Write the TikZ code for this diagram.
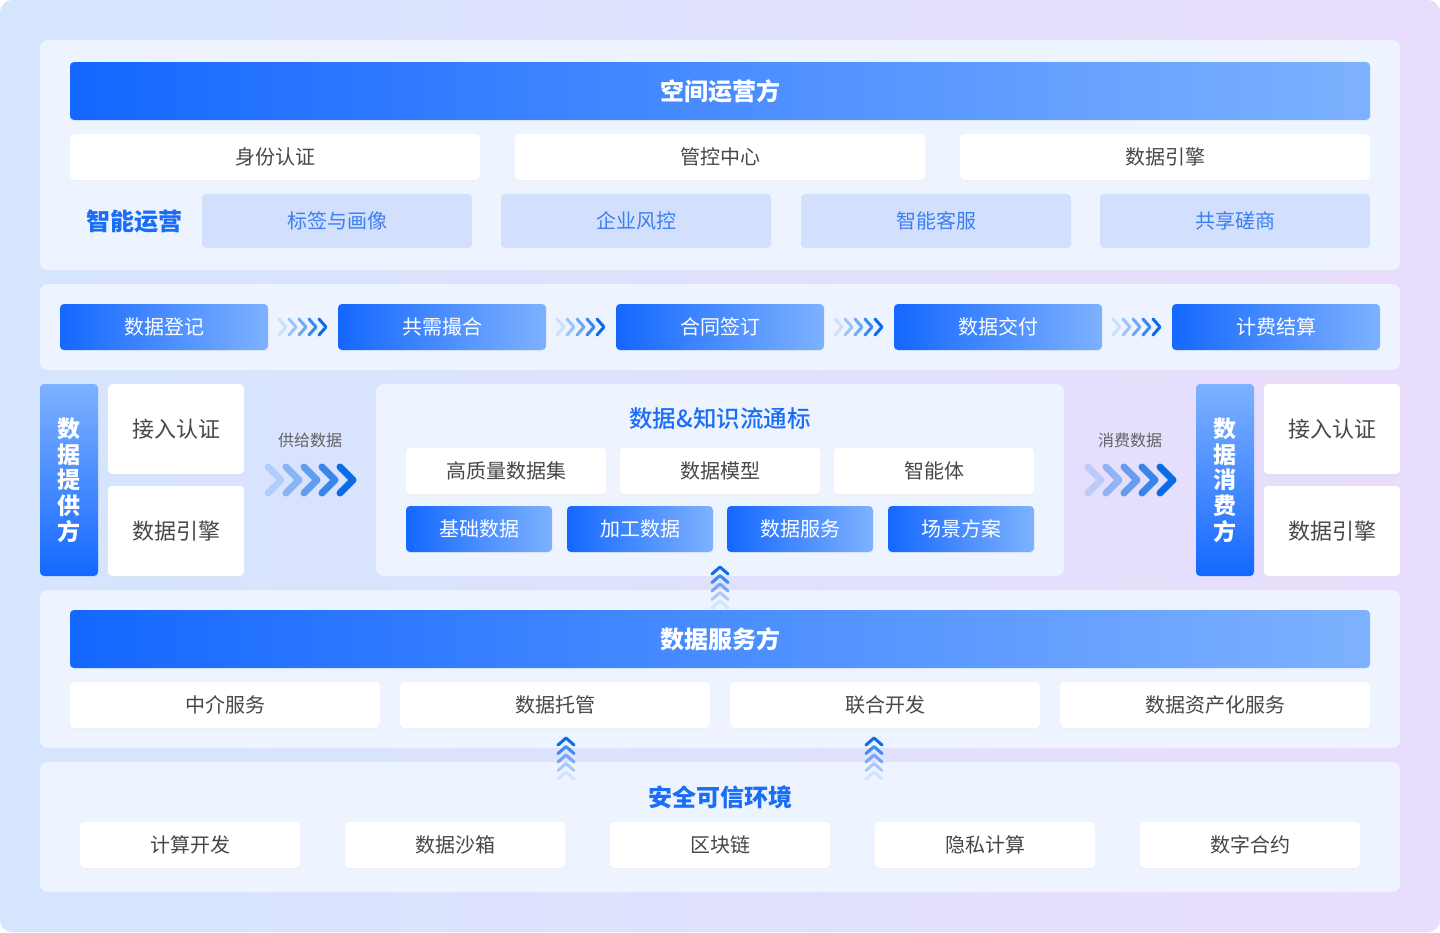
\documentclass[tikz,border=0pt]{standalone}
\usepackage{fontspec}
\setmainfont{Noto Sans CJK SC}
\newfontfamily\medfont{Noto Sans CJK SC Medium}
\usetikzlibrary{positioning,shadows}
\definecolor{bg_left}{HTML}{D5E5FE}
\definecolor{bg_right}{HTML}{E9DDFC}
\definecolor{panel_fill}{HTML}{EEF4FF}
\definecolor{grad_a}{HTML}{1467FF}
\definecolor{grad_b}{HTML}{7EB2FF}
\definecolor{light_fill}{HTML}{D3E0FD}
\definecolor{light_text}{HTML}{3C7FF1}
\definecolor{title_blue}{HTML}{1A6DF5}
\definecolor{gray_text}{HTML}{474747}
\definecolor{chev_blue}{HTML}{0B6CE8}
\tikzset{
    panel/.style = {rectangle, rounded corners=8pt, fill=panel_fill, inner sep=0pt},
    bar_head/.style = {rectangle, rounded corners=4pt, left color=grad_a, right color=grad_b, text=white, font=\bfseries\fontsize{24}{28}\selectfont, minimum width=1300pt, minimum height=58pt},
    bar_side/.style = {rectangle, rounded corners=4pt, top color=grad_b, bottom color=grad_a, text=white, align=center, font=\bfseries\fontsize{23}{25.7}\selectfont, minimum width=58pt, minimum height=192pt},
    box_white/.style = {rectangle, rounded corners=4pt, fill=white, text=gray_text, font=\fontsize{20}{24}\selectfont, minimum height=46pt, minimum width=#1, drop shadow={shadow xshift=0pt, shadow yshift=-1pt, opacity=0.06}},
    box_tall/.style = {box_white=136pt, minimum height=90pt, font=\fontsize{22}{26}\selectfont},
    box_light/.style = {rectangle, rounded corners=4pt, fill=light_fill, text=light_text, font=\fontsize{20}{24}\selectfont, minimum height=54pt, minimum width=270pt},
    box_grad/.style = {rectangle, rounded corners=4pt, left color=grad_a, right color=grad_b, text=white, font=\fontsize{20}{24}\selectfont, minimum height=46pt, minimum width=#1, drop shadow={shadow xshift=0pt, shadow yshift=-1pt, opacity=0.06}},
    title_text/.style = {text=title_blue, font=\bfseries\fontsize{24}{28}\selectfont},
    flow_text/.style = {text=gray_text!85, font=\fontsize{16}{20}\selectfont},
    chev_small/.style = {chev_blue, line width=3pt, line cap=round, line join=round},
    chev_big/.style = {chev_blue, line width=7pt, line cap=round, line join=round}
}
\begin{document}
\begin{tikzpicture}[x=1pt, y=-1pt]
    \useasboundingbox (0,0) rectangle (1440,932);
    \fill[white] (0,0) rectangle (1440,932);
    \shade[left color=bg_left, right color=bg_right, rounded corners=12pt] (0,0) rectangle (1440,932);

    % operator panel
    \node [panel, minimum width=1360pt, minimum height=230pt] (pnl_ops) at (720,155) {};
    \node [bar_head] (hdr_ops) at (720,91) {空间运营方};
    \node [box_white=410pt] (ops_id) at (275,157) {身份认证};
    \node [box_white=410pt] (ops_ctrl) at (720,157) {管控中心};
    \node [box_white=410pt] (ops_engine) at (1165,157) {数据引擎};
    \node [title_text] (ops_smart) at (134,221) {智能运营};
    \node [box_light] (ops_tag) at (337,221) {标签与画像};
    \node [box_light] (ops_risk) at (636,221) {企业风控};
    \node [box_light] (ops_cs) at (936,221) {智能客服};
    \node [box_light] (ops_share) at (1235,221) {共享磋商};

    % process steps
    \node [panel, minimum width=1360pt, minimum height=86pt] (pnl_steps) at (720,327) {};
    \node [box_grad=208pt] (step_reg) at (164,327) {数据登记};
    \node [box_grad=208pt] (step_match) at (442,327) {共需撮合};
    \node [box_grad=208pt] (step_sign) at (720,327) {合同签订};
    \node [box_grad=208pt] (step_deliver) at (998,327) {数据交付};
    \node [box_grad=208pt] (step_bill) at (1276,327) {计费结算};
    \foreach \a/\b in {step_reg/step_match, step_match/step_sign, step_sign/step_deliver, step_deliver/step_bill}{
        \path (\a.east) -- (\b.west) coordinate[midway] (gap);
        \foreach \k/\op in {0/0.15,1/0.35,2/0.55,3/0.78,4/1}{
            \draw [chev_small, draw opacity=\op] ([xshift=\k*10pt-17pt]gap) ++(-7pt,8pt) -- ++(7pt,-8pt) -- ++(-7pt,-8pt);
        }
    }

    % provider
    \node [bar_side] (prov_bar) at (69,480) {数\\据\\提\\供\\方};
    \node [box_tall] (prov_auth) at (176,429) {接入认证};
    \node [box_tall] (prov_engine) at (176,531) {数据引擎};
    \node [flow_text] (prov_lbl) at (310,440) {供给数据};
    \coordinate (prov_arr) at (310,480);

    % center
    \node [panel, minimum width=688pt, minimum height=192pt] (pnl_mid) at (720,480) {};
    \node [title_text, font=\medfont\fontsize{23.5}{28}\selectfont] (mid_title) at (720,419) {数据\&知识流通标};
    \node [box_white=200pt] (mid_set) at (506,471) {高质量数据集};
    \node [box_white=200pt] (mid_model) at (720,471) {数据模型};
    \node [box_white=200pt] (mid_agent) at (934,471) {智能体};
    \node [box_grad=146pt] (mid_base) at (479,529) {基础数据};
    \node [box_grad=146pt] (mid_proc) at (640,529) {加工数据};
    \node [box_grad=146pt] (mid_serv) at (800,529) {数据服务};
    \node [box_grad=146pt] (mid_scene) at (961,529) {场景方案};

    % consumer
    \node [flow_text] (cons_lbl) at (1130,440) {消费数据};
    \coordinate (cons_arr) at (1130,480);
    \node [bar_side] (cons_bar) at (1225,480) {数\\据\\消\\费\\方};
    \node [box_tall] (cons_auth) at (1332,429) {接入认证};
    \node [box_tall] (cons_engine) at (1332,531) {数据引擎};
    \foreach \c in {prov_arr, cons_arr}{
        \foreach \k/\op in {0/0.18,1/0.38,2/0.58,3/0.78,4/1}{
            \draw [chev_big, draw opacity=\op] ([xshift=\k*18pt-29pt]\c) ++(-13pt,13pt) -- ++(13pt,-13pt) -- ++(-13pt,-13pt);
        }
    }

    % service panel
    \node [panel, minimum width=1360pt, minimum height=158pt] (pnl_serv) at (720,669) {};
    \node [bar_head] (hdr_serv) at (720,639) {数据服务方};
    \node [box_white=310pt] (serv_agent) at (225,705) {中介服务};
    \node [box_white=310pt] (serv_host) at (555,705) {数据托管};
    \node [box_white=310pt] (serv_dev) at (885,705) {联合开发};
    \node [box_white=310pt] (serv_asset) at (1215,705) {数据资产化服务};

    % secure env
    \node [panel, minimum width=1360pt, minimum height=130pt] (pnl_sec) at (720,827) {};
    \node [title_text] (sec_title) at (720,797) {安全可信环境};
    \node [box_white=220pt] (sec_comp) at (190,845) {计算开发};
    \node [box_white=220pt] (sec_box) at (455,845) {数据沙箱};
    \node [box_white=220pt] (sec_chain) at (720,845) {区块链};
    \node [box_white=220pt] (sec_priv) at (985,845) {隐私计算};
    \node [box_white=220pt] (sec_contract) at (1250,845) {数字合约};

    % up arrows
    \coordinate (up_mid) at (720,567);
    \coordinate (up_host) at (566,738);
    \coordinate (up_dev) at (874,738);
    \foreach \c in {up_mid, up_host, up_dev}{
        \foreach \k/\op in {0/1,1/0.75,2/0.5,3/0.3,4/0.12}{
            \draw [chev_small, draw opacity=\op] ([yshift=-\k*8.5pt]\c) ++(-8pt,-7pt) -- ++(8pt,7pt) -- ++(8pt,-7pt);
        }
    }
\end{tikzpicture}
\end{document}
